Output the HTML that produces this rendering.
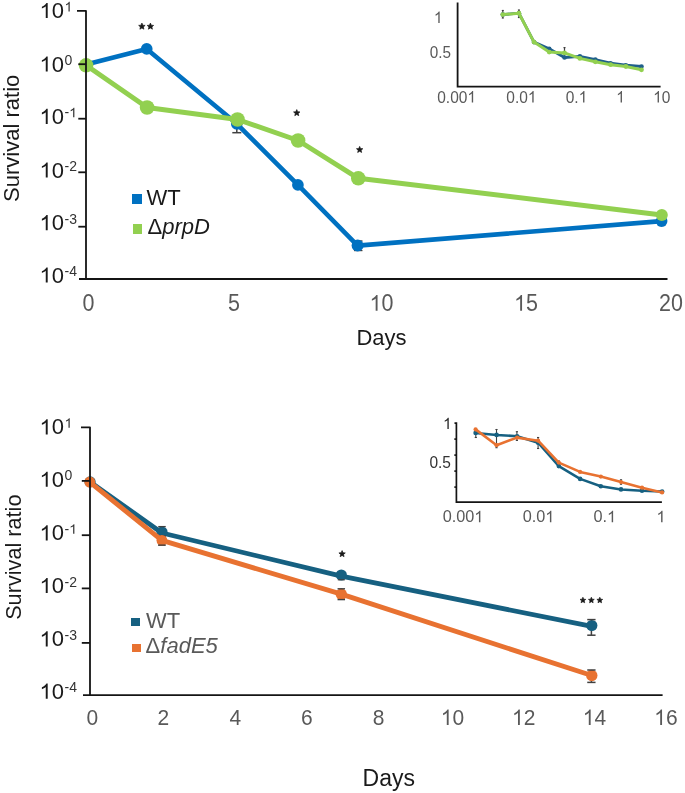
<!DOCTYPE html><html><head><meta charset="utf-8"><style>html,body{margin:0;padding:0;background:#fff;}svg{display:block;will-change:transform}text{font-family:"Liberation Sans",sans-serif}</style></head><body>
<svg width="685" height="793" viewBox="0 0 685 793">
<rect width="685" height="793" fill="#fff"/>
<g transform="translate(39.50,18.10)" fill="#1a1a1a"><path transform="translate(0.00,0) scale(0.01074,-0.01074)" d="M583 0H763V1409H646Q599 1318 486 1221Q373 1125 222 1057V890Q306 920 412 979Q518 1038 583 1098Z"/><text x="12.24" y="0" font-size="22">0</text></g>
<g transform="translate(64.50,11.50)" fill="#333"><path transform="translate(0.00,0) scale(0.00684,-0.00684)" d="M583 0H763V1409H646Q599 1318 486 1221Q373 1125 222 1057V890Q306 920 412 979Q518 1038 583 1098Z"/></g>
<g transform="translate(39.50,71.55)" fill="#1a1a1a"><path transform="translate(0.00,0) scale(0.01074,-0.01074)" d="M583 0H763V1409H646Q599 1318 486 1221Q373 1125 222 1057V890Q306 920 412 979Q518 1038 583 1098Z"/><text x="12.24" y="0" font-size="22">0</text></g>
<g transform="translate(64.50,64.95)" fill="#333"><text x="0.00" y="0" font-size="14">0</text></g>
<g transform="translate(39.50,123.95)" fill="#1a1a1a"><path transform="translate(0.00,0) scale(0.01074,-0.01074)" d="M583 0H763V1409H646Q599 1318 486 1221Q373 1125 222 1057V890Q306 920 412 979Q518 1038 583 1098Z"/><text x="12.24" y="0" font-size="22">0</text></g>
<g transform="translate(64.50,117.35)" fill="#333"><text x="0.00" y="0" font-size="14">-</text><path transform="translate(4.66,0) scale(0.00684,-0.00684)" d="M583 0H763V1409H646Q599 1318 486 1221Q373 1125 222 1057V890Q306 920 412 979Q518 1038 583 1098Z"/></g>
<g transform="translate(39.50,177.60)" fill="#1a1a1a"><path transform="translate(0.00,0) scale(0.01074,-0.01074)" d="M583 0H763V1409H646Q599 1318 486 1221Q373 1125 222 1057V890Q306 920 412 979Q518 1038 583 1098Z"/><text x="12.24" y="0" font-size="22">0</text></g>
<g transform="translate(64.50,171.00)" fill="#333"><text x="0.00" y="0" font-size="14">-</text><text x="4.66" y="0" font-size="14">2</text></g>
<g transform="translate(39.50,230.20)" fill="#1a1a1a"><path transform="translate(0.00,0) scale(0.01074,-0.01074)" d="M583 0H763V1409H646Q599 1318 486 1221Q373 1125 222 1057V890Q306 920 412 979Q518 1038 583 1098Z"/><text x="12.24" y="0" font-size="22">0</text></g>
<g transform="translate(64.50,223.60)" fill="#333"><text x="0.00" y="0" font-size="14">-</text><text x="4.66" y="0" font-size="14">3</text></g>
<g transform="translate(39.50,282.60)" fill="#1a1a1a"><path transform="translate(0.00,0) scale(0.01074,-0.01074)" d="M583 0H763V1409H646Q599 1318 486 1221Q373 1125 222 1057V890Q306 920 412 979Q518 1038 583 1098Z"/><text x="12.24" y="0" font-size="22">0</text></g>
<g transform="translate(64.50,276.00)" fill="#333"><text x="0.00" y="0" font-size="14">-</text><text x="4.66" y="0" font-size="14">4</text></g>
<g transform="translate(88.50,310.80) scale(1.0,1.07)" fill="#595959"><text x="-5.98" y="0" font-size="21.5">0</text></g>
<g transform="translate(234.00,310.80) scale(1.0,1.07)" fill="#595959"><text x="-5.98" y="0" font-size="21.5">5</text></g>
<g transform="translate(381.50,310.80) scale(1.0,1.07)" fill="#595959"><path transform="translate(-11.96,0) scale(0.01050,-0.01050)" d="M583 0H763V1409H646Q599 1318 486 1221Q373 1125 222 1057V890Q306 920 412 979Q518 1038 583 1098Z"/><text x="0.00" y="0" font-size="21.5">0</text></g>
<g transform="translate(526.00,310.80) scale(1.0,1.07)" fill="#595959"><path transform="translate(-11.96,0) scale(0.01050,-0.01050)" d="M583 0H763V1409H646Q599 1318 486 1221Q373 1125 222 1057V890Q306 920 412 979Q518 1038 583 1098Z"/><text x="0.00" y="0" font-size="21.5">5</text></g>
<g transform="translate(671.00,310.80) scale(1.0,1.07)" fill="#595959"><text x="-11.96" y="0" font-size="21.5">2</text><text x="0.00" y="0" font-size="21.5">0</text></g>
<text x="381.5" y="344.5" font-size="22" fill="#1a1a1a" text-anchor="middle">Days</text>
<text transform="translate(18.9,138.3) rotate(-90)" font-size="22" fill="#1a1a1a" text-anchor="middle">Survival ratio</text>
<rect x="132" y="194" width="10" height="10" fill="#0071c1"/>
<rect x="133" y="224" width="9" height="10" fill="#92d050"/>
<text x="146.5" y="204.7" font-size="22" fill="#1a1a1a">WT</text>
<text x="147.6" y="234" font-size="22" fill="#1a1a1a">&#916;<tspan font-style="italic">prpD</tspan></text>
<polygon points="141.90,23.05 142.80,25.21 145.13,25.40 143.36,26.92 143.90,29.20 141.90,27.98 139.90,29.20 140.44,26.92 138.67,25.40 141.00,25.21" fill="#1a1a1a" stroke="#1a1a1a" stroke-width="0.7" stroke-linejoin="round"/>
<polygon points="150.40,23.05 151.30,25.21 153.63,25.40 151.86,26.92 152.40,29.20 150.40,27.98 148.40,29.20 148.94,26.92 147.17,25.40 149.50,25.21" fill="#1a1a1a" stroke="#1a1a1a" stroke-width="0.7" stroke-linejoin="round"/>
<polygon points="296.75,109.60 297.64,111.73 299.94,111.91 298.18,113.42 298.72,115.66 296.75,114.46 294.78,115.66 295.32,113.42 293.56,111.91 295.86,111.73" fill="#1a1a1a" stroke="#1a1a1a" stroke-width="0.7" stroke-linejoin="round"/>
<polygon points="359.65,146.40 360.54,148.53 362.84,148.71 361.08,150.22 361.62,152.46 359.65,151.26 357.68,152.46 358.22,150.22 356.46,148.71 358.76,148.53" fill="#1a1a1a" stroke="#1a1a1a" stroke-width="0.7" stroke-linejoin="round"/>
<line x1="236.8" y1="123.8" x2="236.8" y2="132.7" stroke="#404040" stroke-width="1.5"/>
<line x1="232.3" y1="123.8" x2="241.3" y2="123.8" stroke="#404040" stroke-width="1.5"/>
<line x1="232.3" y1="132.7" x2="241.3" y2="132.7" stroke="#404040" stroke-width="1.5"/>
<line x1="358.2" y1="240.9" x2="358.2" y2="250.6" stroke="#404040" stroke-width="1.2"/>
<line x1="353.95" y1="240.9" x2="362.45" y2="240.9" stroke="#404040" stroke-width="1.2"/>
<line x1="353.95" y1="250.6" x2="362.45" y2="250.6" stroke="#404040" stroke-width="1.2"/>
<line x1="661.6" y1="217" x2="661.6" y2="225.5" stroke="#404040" stroke-width="1.2"/>
<line x1="658.1" y1="217" x2="665.1" y2="217" stroke="#404040" stroke-width="1.2"/>
<line x1="658.1" y1="225.5" x2="665.1" y2="225.5" stroke="#404040" stroke-width="1.2"/>
<polyline points="86.0,64.5 146.7,48.9 236.8,123.8 297.9,184.9 357.6,245.6 661.6,221.1" fill="none" stroke="#0071c1" stroke-width="4.6" stroke-linejoin="round" stroke-linecap="round"/>
<circle cx="86.0" cy="64.5" r="5.85" fill="#0071c1"/>
<circle cx="146.7" cy="48.9" r="5.85" fill="#0071c1"/>
<circle cx="236.8" cy="123.8" r="5.85" fill="#0071c1"/>
<circle cx="297.9" cy="184.9" r="5.85" fill="#0071c1"/>
<circle cx="357.6" cy="245.6" r="6.0" fill="#0071c1"/>
<circle cx="661.6" cy="221.1" r="5.85" fill="#0071c1"/>
<polyline points="86.1,65.3 147.1,107.5 237.5,119.5 298.1,140.5 358.3,178.3 661.8,214.9" fill="none" stroke="#92d050" stroke-width="5.0" stroke-linejoin="round" stroke-linecap="round"/>
<circle cx="86.1" cy="65.3" r="7.3" fill="#92d050"/>
<circle cx="147.1" cy="107.5" r="7.3" fill="#92d050"/>
<circle cx="237.5" cy="119.5" r="7.3" fill="#92d050"/>
<circle cx="298.1" cy="140.5" r="7.3" fill="#92d050"/>
<circle cx="358.3" cy="178.3" r="7.3" fill="#92d050"/>
<circle cx="661.8" cy="214.9" r="6" fill="#92d050"/>
<path d="M77,10.95 H86 V279.0" fill="none" stroke="#141414" stroke-width="1.8" stroke-linejoin="round"/>
<line x1="78.3" y1="64.2" x2="86" y2="64.2" stroke="#141414" stroke-width="1.8"/>
<line x1="78.3" y1="118.7" x2="86" y2="118.7" stroke="#141414" stroke-width="1.8"/>
<line x1="78.3" y1="172.3" x2="86" y2="172.3" stroke="#141414" stroke-width="1.8"/>
<line x1="78.3" y1="226.7" x2="86" y2="226.7" stroke="#141414" stroke-width="1.8"/>
<line x1="79" y1="279.0" x2="667.5" y2="279.0" stroke="#141414" stroke-width="1.8"/>
<path d="M457.6,2.5 V86.6 H660.6" fill="none" stroke="#141414" stroke-width="1.8"/>
<g transform="translate(438.20,22.90) scale(1,1.08)" fill="#595959"><path transform="translate(-4.25,0) scale(0.00747,-0.00747)" d="M583 0H763V1409H646Q599 1318 486 1221Q373 1125 222 1057V890Q306 920 412 979Q518 1038 583 1098Z"/></g>
<g transform="translate(440.40,57.60) scale(1,1.08)" fill="#595959"><text x="-10.63" y="0" font-size="15.3">0</text><text x="-2.13" y="0" font-size="15.3">.</text><text x="2.13" y="0" font-size="15.3">5</text></g>
<g transform="translate(456.60,102.60) scale(1,1.08)" fill="#595959"><text x="-19.39" y="0" font-size="15.5">0</text><text x="-10.77" y="0" font-size="15.5">.</text><text x="-6.47" y="0" font-size="15.5">0</text><text x="2.15" y="0" font-size="15.5">0</text><path transform="translate(10.77,0) scale(0.00757,-0.00757)" d="M583 0H763V1409H646Q599 1318 486 1221Q373 1125 222 1057V890Q306 920 412 979Q518 1038 583 1098Z"/></g>
<g transform="translate(521.40,102.60) scale(1,1.08)" fill="#595959"><text x="-15.08" y="0" font-size="15.5">0</text><text x="-6.46" y="0" font-size="15.5">.</text><text x="-2.16" y="0" font-size="15.5">0</text><path transform="translate(6.46,0) scale(0.00757,-0.00757)" d="M583 0H763V1409H646Q599 1318 486 1221Q373 1125 222 1057V890Q306 920 412 979Q518 1038 583 1098Z"/></g>
<g transform="translate(576.50,102.60) scale(1,1.08)" fill="#595959"><text x="-10.77" y="0" font-size="15.5">0</text><text x="-2.15" y="0" font-size="15.5">.</text><path transform="translate(2.15,0) scale(0.00757,-0.00757)" d="M583 0H763V1409H646Q599 1318 486 1221Q373 1125 222 1057V890Q306 920 412 979Q518 1038 583 1098Z"/></g>
<g transform="translate(620.50,102.60) scale(1,1.08)" fill="#595959"><path transform="translate(-4.31,0) scale(0.00757,-0.00757)" d="M583 0H763V1409H646Q599 1318 486 1221Q373 1125 222 1057V890Q306 920 412 979Q518 1038 583 1098Z"/></g>
<g transform="translate(661.80,102.60) scale(1,1.08)" fill="#595959"><path transform="translate(-8.62,0) scale(0.00757,-0.00757)" d="M583 0H763V1409H646Q599 1318 486 1221Q373 1125 222 1057V890Q306 920 412 979Q518 1038 583 1098Z"/><text x="0.00" y="0" font-size="15.5">0</text></g>
<line x1="502.8" y1="10.5" x2="502.8" y2="18" stroke="#404040" stroke-width="1.2"/>
<line x1="501.8" y1="10.5" x2="503.8" y2="10.5" stroke="#404040" stroke-width="1.2"/>
<line x1="501.8" y1="18" x2="503.8" y2="18" stroke="#404040" stroke-width="1.2"/>
<line x1="518.9" y1="10" x2="518.9" y2="17.5" stroke="#404040" stroke-width="1.2"/>
<line x1="517.9" y1="10" x2="519.9" y2="10" stroke="#404040" stroke-width="1.2"/>
<line x1="517.9" y1="17.5" x2="519.9" y2="17.5" stroke="#404040" stroke-width="1.2"/>
<line x1="564.5" y1="47.6" x2="564.5" y2="57" stroke="#404040" stroke-width="1.2"/>
<line x1="563.5" y1="47.6" x2="565.5" y2="47.6" stroke="#404040" stroke-width="1.2"/>
<line x1="563.5" y1="57" x2="565.5" y2="57" stroke="#404040" stroke-width="1.2"/>
<polyline points="502.8,14.6 518.9,13.2 534.0,42.1 549.2,48.8 564.5,57.5 579.9,56.4 595.3,59.6 610.6,63.2 625.9,65.2 641.5,66.5" fill="none" stroke="#1f5f8b" stroke-width="2.8" stroke-linejoin="round" stroke-linecap="round"/>
<circle cx="502.8" cy="14.6" r="2.3" fill="#1f5f8b"/>
<circle cx="518.9" cy="13.2" r="2.3" fill="#1f5f8b"/>
<circle cx="534.0" cy="42.1" r="2.3" fill="#1f5f8b"/>
<circle cx="549.2" cy="48.8" r="2.3" fill="#1f5f8b"/>
<circle cx="564.5" cy="57.5" r="2.3" fill="#1f5f8b"/>
<circle cx="579.9" cy="56.4" r="2.3" fill="#1f5f8b"/>
<circle cx="595.3" cy="59.6" r="2.3" fill="#1f5f8b"/>
<circle cx="610.6" cy="63.2" r="2.3" fill="#1f5f8b"/>
<circle cx="625.9" cy="65.2" r="2.3" fill="#1f5f8b"/>
<circle cx="641.5" cy="66.5" r="2.3" fill="#1f5f8b"/>
<polyline points="502.8,14.6 518.9,13.2 534.0,42.1 549.2,52.1 564.5,52.9 579.9,58.4 595.3,61.8 610.6,64.7 625.9,66.5 641.5,69.8" fill="none" stroke="#92d050" stroke-width="3.0" stroke-linejoin="round" stroke-linecap="round"/>
<circle cx="502.8" cy="14.6" r="2.4" fill="#92d050"/>
<circle cx="518.9" cy="13.2" r="2.4" fill="#92d050"/>
<circle cx="534.0" cy="42.1" r="2.4" fill="#92d050"/>
<circle cx="549.2" cy="52.1" r="2.4" fill="#92d050"/>
<circle cx="564.5" cy="52.9" r="2.4" fill="#92d050"/>
<circle cx="579.9" cy="58.4" r="2.4" fill="#92d050"/>
<circle cx="595.3" cy="61.8" r="2.4" fill="#92d050"/>
<circle cx="610.6" cy="64.7" r="2.4" fill="#92d050"/>
<circle cx="625.9" cy="66.5" r="2.4" fill="#92d050"/>
<circle cx="641.5" cy="69.8" r="2.4" fill="#92d050"/>
<g transform="translate(39.50,434.40)" fill="#1a1a1a"><path transform="translate(0.00,0) scale(0.01074,-0.01074)" d="M583 0H763V1409H646Q599 1318 486 1221Q373 1125 222 1057V890Q306 920 412 979Q518 1038 583 1098Z"/><text x="12.24" y="0" font-size="22">0</text></g>
<g transform="translate(64.50,427.80)" fill="#333"><path transform="translate(0.00,0) scale(0.00684,-0.00684)" d="M583 0H763V1409H646Q599 1318 486 1221Q373 1125 222 1057V890Q306 920 412 979Q518 1038 583 1098Z"/></g>
<g transform="translate(39.50,486.80)" fill="#1a1a1a"><path transform="translate(0.00,0) scale(0.01074,-0.01074)" d="M583 0H763V1409H646Q599 1318 486 1221Q373 1125 222 1057V890Q306 920 412 979Q518 1038 583 1098Z"/><text x="12.24" y="0" font-size="22">0</text></g>
<g transform="translate(64.50,480.20)" fill="#333"><text x="0.00" y="0" font-size="14">0</text></g>
<g transform="translate(39.50,540.40)" fill="#1a1a1a"><path transform="translate(0.00,0) scale(0.01074,-0.01074)" d="M583 0H763V1409H646Q599 1318 486 1221Q373 1125 222 1057V890Q306 920 412 979Q518 1038 583 1098Z"/><text x="12.24" y="0" font-size="22">0</text></g>
<g transform="translate(64.50,533.80)" fill="#333"><text x="0.00" y="0" font-size="14">-</text><path transform="translate(4.66,0) scale(0.00684,-0.00684)" d="M583 0H763V1409H646Q599 1318 486 1221Q373 1125 222 1057V890Q306 920 412 979Q518 1038 583 1098Z"/></g>
<g transform="translate(39.50,593.10)" fill="#1a1a1a"><path transform="translate(0.00,0) scale(0.01074,-0.01074)" d="M583 0H763V1409H646Q599 1318 486 1221Q373 1125 222 1057V890Q306 920 412 979Q518 1038 583 1098Z"/><text x="12.24" y="0" font-size="22">0</text></g>
<g transform="translate(64.50,586.50)" fill="#333"><text x="0.00" y="0" font-size="14">-</text><text x="4.66" y="0" font-size="14">2</text></g>
<g transform="translate(39.50,646.40)" fill="#1a1a1a"><path transform="translate(0.00,0) scale(0.01074,-0.01074)" d="M583 0H763V1409H646Q599 1318 486 1221Q373 1125 222 1057V890Q306 920 412 979Q518 1038 583 1098Z"/><text x="12.24" y="0" font-size="22">0</text></g>
<g transform="translate(64.50,639.80)" fill="#333"><text x="0.00" y="0" font-size="14">-</text><text x="4.66" y="0" font-size="14">3</text></g>
<g transform="translate(39.50,698.70)" fill="#1a1a1a"><path transform="translate(0.00,0) scale(0.01074,-0.01074)" d="M583 0H763V1409H646Q599 1318 486 1221Q373 1125 222 1057V890Q306 920 412 979Q518 1038 583 1098Z"/><text x="12.24" y="0" font-size="22">0</text></g>
<g transform="translate(64.50,692.10)" fill="#333"><text x="0.00" y="0" font-size="14">-</text><text x="4.66" y="0" font-size="14">4</text></g>
<g transform="translate(92.30,725.00) scale(1.0,1.08)" fill="#595959"><text x="-5.84" y="0" font-size="21">0</text></g>
<g transform="translate(163.40,725.00) scale(1.0,1.08)" fill="#595959"><text x="-5.84" y="0" font-size="21">2</text></g>
<g transform="translate(235.30,725.00) scale(1.0,1.08)" fill="#595959"><text x="-5.84" y="0" font-size="21">4</text></g>
<g transform="translate(306.90,725.00) scale(1.0,1.08)" fill="#595959"><text x="-5.84" y="0" font-size="21">6</text></g>
<g transform="translate(378.50,725.00) scale(1.0,1.08)" fill="#595959"><text x="-5.84" y="0" font-size="21">8</text></g>
<g transform="translate(452.50,725.00) scale(1.0,1.08)" fill="#595959"><path transform="translate(-11.68,0) scale(0.01025,-0.01025)" d="M583 0H763V1409H646Q599 1318 486 1221Q373 1125 222 1057V890Q306 920 412 979Q518 1038 583 1098Z"/><text x="0.00" y="0" font-size="21">0</text></g>
<g transform="translate(523.70,725.00) scale(1.0,1.08)" fill="#595959"><path transform="translate(-11.68,0) scale(0.01025,-0.01025)" d="M583 0H763V1409H646Q599 1318 486 1221Q373 1125 222 1057V890Q306 920 412 979Q518 1038 583 1098Z"/><text x="0.00" y="0" font-size="21">2</text></g>
<g transform="translate(594.50,725.00) scale(1.0,1.08)" fill="#595959"><path transform="translate(-11.68,0) scale(0.01025,-0.01025)" d="M583 0H763V1409H646Q599 1318 486 1221Q373 1125 222 1057V890Q306 920 412 979Q518 1038 583 1098Z"/><text x="0.00" y="0" font-size="21">4</text></g>
<g transform="translate(665.90,725.00) scale(1.0,1.08)" fill="#595959"><path transform="translate(-11.68,0) scale(0.01025,-0.01025)" d="M583 0H763V1409H646Q599 1318 486 1221Q373 1125 222 1057V890Q306 920 412 979Q518 1038 583 1098Z"/><text x="0.00" y="0" font-size="21">6</text></g>
<text x="388.8" y="785.9" font-size="23" fill="#1a1a1a" text-anchor="middle">Days</text>
<text transform="translate(20.6,557.2) rotate(-90)" font-size="21.7" fill="#1a1a1a" text-anchor="middle">Survival ratio</text>
<rect x="131" y="618" width="9" height="8" fill="#166081"/>
<rect x="132" y="644" width="9" height="8" fill="#e87231"/>
<text x="146" y="628.4" font-size="22" fill="#595959">WT</text>
<text x="145.6" y="652.6" font-size="22" fill="#595959">&#916;<tspan font-style="italic">fadE5</tspan></text>
<polygon points="342.10,550.60 342.99,552.73 345.29,552.91 343.53,554.42 344.07,556.66 342.10,555.46 340.13,556.66 340.67,554.42 338.91,552.91 341.21,552.73" fill="#1a1a1a" stroke="#1a1a1a" stroke-width="0.7" stroke-linejoin="round"/>
<polygon points="582.90,597.25 583.71,599.19 585.80,599.36 584.21,600.72 584.69,602.77 582.90,601.67 581.11,602.77 581.59,600.72 580.00,599.36 582.09,599.19" fill="#1a1a1a" stroke="#1a1a1a" stroke-width="0.7" stroke-linejoin="round"/>
<polygon points="591.35,597.25 592.16,599.19 594.25,599.36 592.66,600.72 593.14,602.77 591.35,601.67 589.56,602.77 590.04,600.72 588.45,599.36 590.54,599.19" fill="#1a1a1a" stroke="#1a1a1a" stroke-width="0.7" stroke-linejoin="round"/>
<polygon points="599.80,597.25 600.61,599.19 602.70,599.36 601.11,600.72 601.59,602.77 599.80,601.67 598.01,602.77 598.49,600.72 596.90,599.36 598.99,599.19" fill="#1a1a1a" stroke="#1a1a1a" stroke-width="0.7" stroke-linejoin="round"/>
<line x1="162" y1="526.6" x2="162" y2="536" stroke="#404040" stroke-width="1.3"/>
<line x1="591.4" y1="619.6" x2="591.4" y2="635.2" stroke="#404040" stroke-width="1.5"/>
<line x1="341.3" y1="588.8" x2="341.3" y2="599.6" stroke="#404040" stroke-width="1.4"/>
<line x1="591.4" y1="670.0" x2="591.4" y2="682.4" stroke="#404040" stroke-width="1.5"/>
<line x1="161.9" y1="536.2" x2="161.9" y2="545.1" stroke="#404040" stroke-width="1.3"/>
<line x1="158.15" y1="536.2" x2="165.65" y2="536.2" stroke="#404040" stroke-width="1.3"/>
<line x1="158.15" y1="545.1" x2="165.65" y2="545.1" stroke="#404040" stroke-width="1.3"/>
<polyline points="90.1,481.9 162.0,533.0 341.3,576.1 591.8,626.4" fill="none" stroke="#166081" stroke-width="4.8" stroke-linejoin="round" stroke-linecap="round"/>
<circle cx="90.1" cy="481.9" r="5.6" fill="#166081"/>
<circle cx="162.0" cy="532.0" r="5.6" fill="#166081"/>
<circle cx="341.3" cy="575.0" r="5.6" fill="#166081"/>
<circle cx="591.8" cy="625.5" r="5.6" fill="#166081"/>
<line x1="158.25" y1="526.6" x2="165.75" y2="526.6" stroke="#404040" stroke-width="1.3"/>
<line x1="158.25" y1="536" x2="165.75" y2="536" stroke="#404040" stroke-width="1.3"/>
<line x1="587.25" y1="619.6" x2="595.55" y2="619.6" stroke="#404040" stroke-width="1.5"/>
<line x1="587.25" y1="635.2" x2="595.55" y2="635.2" stroke="#404040" stroke-width="1.5"/>
<line x1="337.8" y1="579.8" x2="344.8" y2="579.8" stroke="#404040" stroke-width="1.2"/>
<polyline points="89.8,482.1 161.9,540.4 341.3,594.2 591.8,675.5" fill="none" stroke="#e87231" stroke-width="4.9" stroke-linejoin="round" stroke-linecap="round"/>
<circle cx="89.8" cy="482.1" r="5.5" fill="#e87231"/>
<circle cx="161.9" cy="540.4" r="5.4" fill="#e87231"/>
<circle cx="341.3" cy="594.2" r="5.7" fill="#e87231"/>
<circle cx="591.8" cy="675.5" r="5.7" fill="#e87231"/>
<line x1="337.55" y1="588.8" x2="345.05" y2="588.8" stroke="#404040" stroke-width="1.4"/>
<line x1="337.55" y1="599.6" x2="345.05" y2="599.6" stroke="#404040" stroke-width="1.4"/>
<line x1="587.25" y1="670.0" x2="595.55" y2="670.0" stroke="#404040" stroke-width="1.5"/>
<line x1="587.25" y1="682.4" x2="595.55" y2="682.4" stroke="#404040" stroke-width="1.5"/>
<line x1="158.3" y1="545.1" x2="165.5" y2="545.1" stroke="#404040" stroke-width="1.3"/>
<path d="M81,427.3 H90 V695.1" fill="none" stroke="#141414" stroke-width="1.8" stroke-linejoin="round"/>
<line x1="81.8" y1="480.9" x2="90" y2="480.9" stroke="#141414" stroke-width="1.8"/>
<line x1="81.8" y1="535.2" x2="90" y2="535.2" stroke="#141414" stroke-width="1.8"/>
<line x1="81.8" y1="588.4" x2="90" y2="588.4" stroke="#141414" stroke-width="1.8"/>
<line x1="81.8" y1="642.9" x2="90" y2="642.9" stroke="#141414" stroke-width="1.8"/>
<line x1="83" y1="695.1" x2="662.6" y2="695.1" stroke="#141414" stroke-width="1.8"/>
<path d="M454.5,423.1 H456.4 V502.2 H661.9" fill="none" stroke="#141414" stroke-width="1.7"/>
<line x1="454.3" y1="439.1" x2="456.4" y2="439.1" stroke="#141414" stroke-width="1.6"/>
<line x1="454.3" y1="455.1" x2="456.4" y2="455.1" stroke="#141414" stroke-width="1.6"/>
<line x1="454.3" y1="471.1" x2="456.4" y2="471.1" stroke="#141414" stroke-width="1.6"/>
<line x1="454.3" y1="487.1" x2="456.4" y2="487.1" stroke="#141414" stroke-width="1.6"/>
<g transform="translate(447.30,429.00) scale(1,1.08)" fill="#262626"><path transform="translate(-4.25,0) scale(0.00747,-0.00747)" d="M583 0H763V1409H646Q599 1318 486 1221Q373 1125 222 1057V890Q306 920 412 979Q518 1038 583 1098Z"/></g>
<g transform="translate(440.20,467.80) scale(1,1.08)" fill="#333"><text x="-10.77" y="0" font-size="15.5">0</text><text x="-2.15" y="0" font-size="15.5">.</text><text x="2.15" y="0" font-size="15.5">5</text></g>
<g transform="translate(463.00,522.20) scale(1.05,1.08)" fill="#595959"><text x="-19.39" y="0" font-size="15.5">0</text><text x="-10.77" y="0" font-size="15.5">.</text><text x="-6.47" y="0" font-size="15.5">0</text><text x="2.15" y="0" font-size="15.5">0</text><path transform="translate(10.77,0) scale(0.00757,-0.00757)" d="M583 0H763V1409H646Q599 1318 486 1221Q373 1125 222 1057V890Q306 920 412 979Q518 1038 583 1098Z"/></g>
<g transform="translate(538.50,522.20) scale(1.05,1.08)" fill="#595959"><text x="-15.08" y="0" font-size="15.5">0</text><text x="-6.46" y="0" font-size="15.5">.</text><text x="-2.16" y="0" font-size="15.5">0</text><path transform="translate(6.46,0) scale(0.00757,-0.00757)" d="M583 0H763V1409H646Q599 1318 486 1221Q373 1125 222 1057V890Q306 920 412 979Q518 1038 583 1098Z"/></g>
<g transform="translate(604.80,522.20) scale(1.05,1.08)" fill="#595959"><text x="-10.77" y="0" font-size="15.5">0</text><text x="-2.15" y="0" font-size="15.5">.</text><path transform="translate(2.15,0) scale(0.00757,-0.00757)" d="M583 0H763V1409H646Q599 1318 486 1221Q373 1125 222 1057V890Q306 920 412 979Q518 1038 583 1098Z"/></g>
<g transform="translate(661.00,522.20) scale(1.05,1.08)" fill="#595959"><path transform="translate(-4.31,0) scale(0.00757,-0.00757)" d="M583 0H763V1409H646Q599 1318 486 1221Q373 1125 222 1057V890Q306 920 412 979Q518 1038 583 1098Z"/></g>
<line x1="475.8" y1="429.5" x2="475.8" y2="437.5" stroke="#404040" stroke-width="1.1"/>
<line x1="474.7" y1="429.5" x2="476.90000000000003" y2="429.5" stroke="#404040" stroke-width="1.1"/>
<line x1="474.7" y1="437.5" x2="476.90000000000003" y2="437.5" stroke="#404040" stroke-width="1.1"/>
<line x1="496.5" y1="429.5" x2="496.5" y2="447.7" stroke="#404040" stroke-width="1.1"/>
<line x1="495.4" y1="429.5" x2="497.6" y2="429.5" stroke="#404040" stroke-width="1.1"/>
<line x1="495.4" y1="447.7" x2="497.6" y2="447.7" stroke="#404040" stroke-width="1.1"/>
<line x1="516.9" y1="431.7" x2="516.9" y2="440.4" stroke="#404040" stroke-width="1.1"/>
<line x1="515.8" y1="431.7" x2="518.0" y2="431.7" stroke="#404040" stroke-width="1.1"/>
<line x1="515.8" y1="440.4" x2="518.0" y2="440.4" stroke="#404040" stroke-width="1.1"/>
<line x1="538.1" y1="437.5" x2="538.1" y2="448.5" stroke="#404040" stroke-width="1.1"/>
<line x1="537.0" y1="437.5" x2="539.2" y2="437.5" stroke="#404040" stroke-width="1.1"/>
<line x1="537.0" y1="448.5" x2="539.2" y2="448.5" stroke="#404040" stroke-width="1.1"/>
<line x1="558.8" y1="461" x2="558.8" y2="467.2" stroke="#404040" stroke-width="1.1"/>
<line x1="557.6999999999999" y1="461" x2="559.9" y2="461" stroke="#404040" stroke-width="1.1"/>
<line x1="557.6999999999999" y1="467.2" x2="559.9" y2="467.2" stroke="#404040" stroke-width="1.1"/>
<line x1="621" y1="479.8" x2="621" y2="484.2" stroke="#404040" stroke-width="1.1"/>
<line x1="619.9" y1="479.8" x2="622.1" y2="479.8" stroke="#404040" stroke-width="1.1"/>
<line x1="619.9" y1="484.2" x2="622.1" y2="484.2" stroke="#404040" stroke-width="1.1"/>
<polyline points="475.6,432.9 496.6,434.9 517.1,436.2 538.1,442.7 558.8,466.1 580.1,478.9 600.8,486.3 621.0,489.4 642.0,490.8 662.1,491.5" fill="none" stroke="#166081" stroke-width="2.5" stroke-linejoin="round" stroke-linecap="round"/>
<circle cx="475.6" cy="432.9" r="2.3" fill="#166081"/>
<circle cx="496.6" cy="434.9" r="2.3" fill="#166081"/>
<circle cx="517.1" cy="436.2" r="2.3" fill="#166081"/>
<circle cx="538.1" cy="442.7" r="2.3" fill="#166081"/>
<circle cx="558.8" cy="466.1" r="2.3" fill="#166081"/>
<circle cx="580.1" cy="478.9" r="2.3" fill="#166081"/>
<circle cx="600.8" cy="486.3" r="2.3" fill="#166081"/>
<circle cx="621.0" cy="489.4" r="2.3" fill="#166081"/>
<circle cx="642.0" cy="490.8" r="2.3" fill="#166081"/>
<circle cx="662.1" cy="491.5" r="2.3" fill="#166081"/>
<polyline points="475.6,429.4 496.6,445.2 517.1,437.6 538.1,440.7 558.8,462.6 580.1,471.9 600.8,476.6 621.0,482.1 642.0,487.7 662.1,492.4" fill="none" stroke="#e87231" stroke-width="2.6" stroke-linejoin="round" stroke-linecap="round"/>
<circle cx="475.6" cy="429.4" r="2.1" fill="#e87231"/>
<circle cx="496.6" cy="445.2" r="2.1" fill="#e87231"/>
<circle cx="517.1" cy="437.6" r="2.1" fill="#e87231"/>
<circle cx="538.1" cy="440.7" r="2.1" fill="#e87231"/>
<circle cx="558.8" cy="462.6" r="2.1" fill="#e87231"/>
<circle cx="580.1" cy="471.9" r="2.1" fill="#e87231"/>
<circle cx="600.8" cy="476.6" r="2.1" fill="#e87231"/>
<circle cx="621.0" cy="482.1" r="2.1" fill="#e87231"/>
<circle cx="642.0" cy="487.7" r="2.1" fill="#e87231"/>
<circle cx="662.1" cy="492.4" r="2.1" fill="#e87231"/>
</svg></body></html>
